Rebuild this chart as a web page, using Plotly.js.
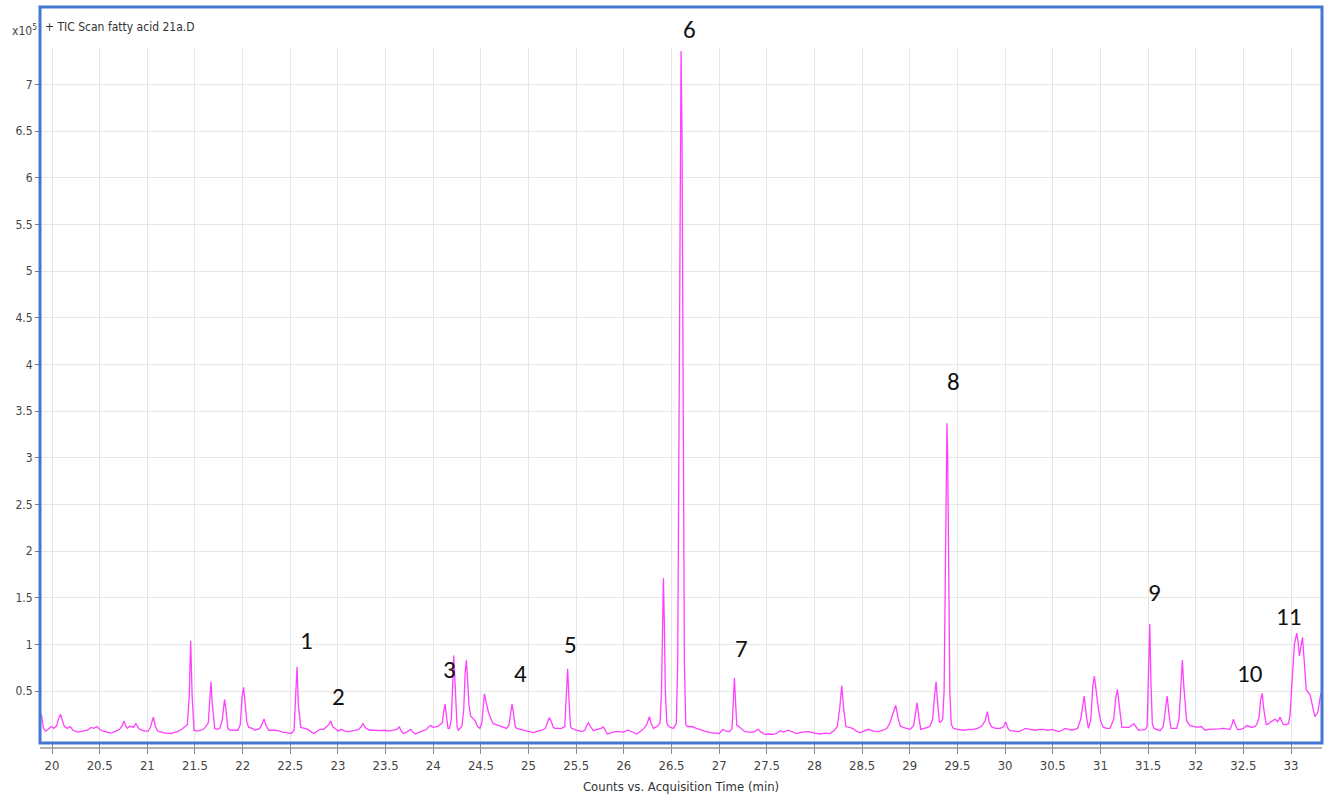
<!DOCTYPE html>
<html>
<head>
<meta charset="utf-8">
<script src="https://cdn.plot.ly/plotly-3.0.1.min.js"></script>
<style>html,body{margin:0;padding:0;background:#fff;}#chart{width:1333px;height:803px;}</style>
</head>
<body>
<div id="chart"></div>
<script>
// Retention time (min)
const times = [
19.875,19.89,19.91,19.93,19.96,19.99,20.02,20.05,20.07,20.09,20.11,20.13,20.16,20.19,20.22,20.27,20.32,20.37,20.41,20.44,20.47,20.50,20.535,20.58,20.62,20.67,20.71,20.735,20.755,20.775,20.79,20.81,20.83,20.855,20.88,20.91,20.94,20.98,21.01,21.035,21.063,21.085,21.11,21.15,21.18,21.22,21.25,21.29,21.32,21.36,21.39,21.42,21.44,21.455,21.47,21.49,21.53,21.565,21.60,21.64,21.655,21.668,21.68,21.707,21.74,21.76,21.785,21.80,21.81,21.825,21.845,21.87,21.91,21.95,21.975,21.995,22.01,22.025,22.045,22.064,22.10,22.13,22.16,22.18,22.205,22.225,22.245,22.275,22.32,22.37,22.42,22.47,22.51,22.54,22.555,22.571,22.585,22.61,22.65,22.686,22.72,22.75,22.78,22.81,22.85,22.88,22.905,22.924,22.945,22.97,23.00,23.036,23.07,23.106,23.15,23.19,23.22,23.245,23.263,23.285,23.316,23.337,23.39,23.44,23.49,23.54,23.58,23.615,23.645,23.665,23.686,23.72,23.764,23.785,23.81,23.85,23.896,23.93,23.955,23.974,24.00,24.02,24.05,24.07,24.095,24.11,24.124,24.14,24.155,24.17,24.19,24.205,24.215,24.23,24.25,24.263,24.28,24.30,24.32,24.335,24.348,24.36,24.375,24.393,24.415,24.44,24.465,24.49,24.51,24.525,24.537,24.555,24.58,24.605,24.63,24.66,24.69,24.72,24.75,24.77,24.795,24.812,24.827,24.842,24.86,24.876,24.92,24.963,25.00,25.05,25.10,25.14,25.175,25.20,25.218,25.24,25.26,25.278,25.31,25.348,25.38,25.397,25.41,25.425,25.44,25.453,25.50,25.558,25.59,25.61,25.628,25.65,25.68,25.72,25.76,25.785,25.805,25.827,25.86,25.90,25.94,25.99,26.047,26.09,26.135,26.175,26.21,26.24,26.255,26.268,26.285,26.31,26.35,26.38,26.395,26.405,26.415,26.425,26.435,26.45,26.467,26.49,26.52,26.55,26.565,26.578,26.59,26.60,26.61,26.622,26.635,26.65,26.667,26.69,26.73,26.76,26.80,26.85,26.905,26.95,27.00,27.04,27.07,27.11,27.135,27.148,27.16,27.172,27.185,27.20,27.235,27.27,27.32,27.36,27.41,27.44,27.48,27.52,27.57,27.61,27.64,27.68,27.726,27.77,27.81,27.87,27.94,28.00,28.06,28.11,28.164,28.21,28.24,28.265,28.286,28.305,28.33,28.365,28.40,28.44,28.48,28.52,28.566,28.62,28.67,28.72,28.76,28.79,28.825,28.853,28.875,28.90,28.93,28.96,29.003,29.04,29.06,29.077,29.095,29.115,29.15,29.19,29.213,29.24,29.26,29.276,29.29,29.31,29.325,29.345,29.36,29.372,29.382,29.39,29.398,29.408,29.42,29.435,29.458,29.50,29.563,29.62,29.668,29.71,29.755,29.79,29.814,29.835,29.86,29.90,29.95,29.985,30.007,30.03,30.05,30.10,30.14,30.18,30.21,30.26,30.315,30.36,30.40,30.45,30.49,30.53,30.56,30.60,30.63,30.67,30.70,30.73,30.76,30.794,30.815,30.83,30.85,30.874,30.90,30.92,30.937,30.955,30.98,31.005,31.03,31.07,31.10,31.14,31.16,31.178,31.195,31.225,31.26,31.30,31.35,31.375,31.40,31.44,31.47,31.49,31.505,31.518,31.53,31.545,31.563,31.60,31.626,31.66,31.685,31.70,31.72,31.74,31.77,31.80,31.825,31.845,31.86,31.875,31.895,31.905,31.94,31.976,32.02,32.057,32.08,32.10,32.14,32.186,32.24,32.29,32.33,32.36,32.38,32.395,32.415,32.44,32.47,32.50,32.536,32.565,32.59,32.62,32.64,32.665,32.68,32.697,32.715,32.74,32.765,32.788,32.81,32.835,32.858,32.886,32.905,32.92,32.95,32.975,32.99,33.008,33.035,33.06,33.075,33.088,33.105,33.12,33.14,33.16,33.20,33.225,33.25,33.28,33.31,33.325
];
// Counts (x10^5)
const counts = [
0.26,0.24,0.10,0.07,0.09,0.12,0.10,0.13,0.21,0.25,0.18,0.12,0.10,0.12,0.08,0.06,0.07,0.08,0.11,0.10,0.12,0.09,0.07,0.06,0.05,0.07,0.09,0.13,0.18,0.12,0.10,0.12,0.12,0.11,0.15,0.10,0.08,0.07,0.07,0.12,0.22,0.12,0.07,0.06,0.05,0.05,0.045,0.06,0.065,0.09,0.12,0.14,0.45,1.04,0.45,0.08,0.07,0.08,0.10,0.16,0.40,0.60,0.38,0.10,0.09,0.10,0.18,0.36,0.41,0.30,0.10,0.08,0.08,0.08,0.14,0.45,0.54,0.40,0.16,0.11,0.10,0.08,0.09,0.10,0.15,0.20,0.13,0.08,0.08,0.075,0.06,0.05,0.045,0.08,0.35,0.76,0.35,0.11,0.10,0.09,0.06,0.045,0.07,0.09,0.09,0.12,0.14,0.18,0.12,0.10,0.07,0.09,0.07,0.065,0.07,0.08,0.09,0.12,0.155,0.11,0.09,0.08,0.08,0.075,0.08,0.07,0.08,0.09,0.115,0.07,0.045,0.06,0.09,0.06,0.04,0.06,0.075,0.09,0.12,0.13,0.11,0.115,0.12,0.14,0.16,0.28,0.36,0.22,0.10,0.10,0.20,0.60,0.88,0.55,0.12,0.08,0.10,0.12,0.30,0.70,0.83,0.65,0.35,0.23,0.21,0.18,0.12,0.10,0.16,0.38,0.47,0.38,0.27,0.20,0.15,0.14,0.13,0.12,0.11,0.10,0.14,0.28,0.36,0.26,0.12,0.10,0.09,0.08,0.07,0.055,0.07,0.08,0.10,0.17,0.215,0.17,0.11,0.10,0.10,0.10,0.12,0.40,0.74,0.40,0.12,0.10,0.08,0.065,0.08,0.13,0.16,0.12,0.075,0.09,0.10,0.115,0.07,0.04,0.05,0.065,0.065,0.06,0.08,0.06,0.04,0.07,0.10,0.14,0.20,0.225,0.16,0.10,0.12,0.16,0.50,1.20,1.71,1.20,0.50,0.16,0.125,0.11,0.10,0.15,0.80,3.20,6.50,7.36,6.50,3.20,0.80,0.14,0.12,0.12,0.115,0.10,0.09,0.07,0.055,0.05,0.045,0.09,0.07,0.065,0.10,0.38,0.64,0.38,0.13,0.125,0.09,0.065,0.06,0.06,0.09,0.06,0.035,0.04,0.035,0.05,0.075,0.06,0.08,0.06,0.045,0.06,0.065,0.05,0.04,0.05,0.045,0.08,0.12,0.32,0.56,0.32,0.12,0.11,0.10,0.07,0.055,0.07,0.09,0.07,0.065,0.08,0.10,0.155,0.25,0.347,0.22,0.125,0.11,0.10,0.09,0.13,0.28,0.375,0.22,0.09,0.10,0.11,0.125,0.20,0.45,0.60,0.40,0.17,0.165,0.20,0.50,1.60,3.00,3.37,3.00,1.60,0.50,0.14,0.10,0.09,0.08,0.09,0.09,0.10,0.125,0.18,0.28,0.16,0.115,0.10,0.10,0.12,0.17,0.10,0.075,0.07,0.065,0.08,0.10,0.09,0.08,0.09,0.09,0.08,0.09,0.075,0.065,0.08,0.10,0.09,0.08,0.09,0.10,0.20,0.38,0.447,0.25,0.10,0.20,0.55,0.66,0.50,0.30,0.17,0.11,0.10,0.10,0.20,0.42,0.518,0.35,0.11,0.11,0.11,0.15,0.12,0.08,0.085,0.09,0.12,0.60,1.218,0.60,0.15,0.10,0.08,0.075,0.12,0.33,0.447,0.25,0.10,0.10,0.10,0.20,0.65,0.833,0.55,0.22,0.18,0.13,0.12,0.11,0.12,0.10,0.08,0.09,0.09,0.095,0.10,0.09,0.09,0.14,0.197,0.14,0.085,0.09,0.10,0.13,0.12,0.11,0.12,0.14,0.22,0.40,0.476,0.30,0.14,0.15,0.17,0.18,0.20,0.17,0.22,0.17,0.14,0.14,0.15,0.25,0.58,1.00,1.12,1.02,0.876,1.00,1.076,0.80,0.511,0.46,0.35,0.225,0.27,0.457,0.50
];
// Peak labels
const labelText = ["1","2","3","4","5","6","7","8","9","10","11"];
const labelTime = [22.665,23.01,24.166,24.911,25.435,26.684,27.23,29.455,31.563,32.571,32.969];
const labelHeight = [1.047,0.437,0.726,0.683,0.994,7.36,0.951,3.823,1.56,0.683,1.294];
const labelShift = [0,0,0,0,0,21,0,0,0,0,0];
// Axis ticks
const yTicks = [0.5,1,1.5,2,2.5,3,3.5,4,4.5,5,5.5,6,6.5,7];
const yTickText = ["0.5","1","1.5","2","2.5","3","3.5","4","4.5","5","5.5","6","6.5","7"];

const narrow = "'Liberation Sans Narrow', 'Arial Narrow', 'DejaVu Sans Condensed', sans-serif";
const labelFont = "Carlito, Lato, 'Open Sans', sans-serif";

const trace = {
  x: times, y: counts, type: 'scatter', mode: 'lines',
  line: {color: '#ff40ff', width: 1.3},
  hoverinfo: 'skip'
};

const annotations = labelText.map((t, i) => ({
  x: labelTime[i], y: labelHeight[i], xref: 'x', yref: 'y',
  text: t, showarrow: false, yshift: labelShift[i],
  xanchor: 'center', yanchor: 'middle',
  font: {family: labelFont, size: 25, color: '#111'}
}));
annotations.push({
  xref: 'paper', yref: 'paper', x: 0.0023, y: 1.030, xanchor: 'left', yanchor: 'middle',
  text: '+ TIC Scan fatty acid 21a.D', showarrow: false,
  font: {family: narrow, size: 12, color: '#333'}
});
annotations.push({
  xref: 'paper', yref: 'paper', x: -0.0234, y: 1.026, xanchor: 'left', yanchor: 'middle',
  text: 'x10<sup>5</sup>', showarrow: false,
  font: {family: narrow, size: 12, color: '#444'}
});

const layout = {
  width: 1333, height: 803,
  margin: {l: 40, r: 11, t: 48, b: 61, pad: 0},
  paper_bgcolor: '#ffffff', plot_bgcolor: '#ffffff',
  showlegend: false,
  xaxis: {
    range: [19.874, 33.325], tick0: 20, dtick: 0.5,
    showgrid: true, gridcolor: '#e6e6e6', gridwidth: 1,
    zeroline: false, showline: false,
    ticks: 'outside', ticklen: 11, tickcolor: '#8a8a8a', tickwidth: 1,
    tickfont: {family: narrow, size: 13, color: '#444'},
    title: {text: 'Counts vs. Acquisition Time (min)', font: {family: narrow, size: 13, color: '#333'}, standoff: 10}
  },
  yaxis: {
    range: [-0.046, 7.392],
    tickmode: 'array', tickvals: yTicks, ticktext: yTickText,
    showgrid: true, gridcolor: '#e6e6e6', gridwidth: 1,
    zeroline: false, showline: false,
    ticks: 'outside', ticklen: 4, tickcolor: '#777',
    tickfont: {family: narrow, size: 12, color: '#444'}
  },
  shapes: [
    {type: 'rect', xref: 'paper', yref: 'paper', x0: 0, x1: 1, y0: -0.0014, y1: 1.0591,
     line: {color: '#4378d2', width: 3}, fillcolor: 'rgba(0,0,0,0)', layer: 'above'},
    {type: 'line', xref: 'paper', yref: 'paper', x0: 0, x1: 1, y0: -0.0086, y1: -0.0086,
     line: {color: '#9a9a9a', width: 1.5}}
  ],
  annotations: annotations
};

Plotly.newPlot('chart', [trace], layout, {displayModeBar: false, staticPlot: true});
</script>
</body>
</html>
